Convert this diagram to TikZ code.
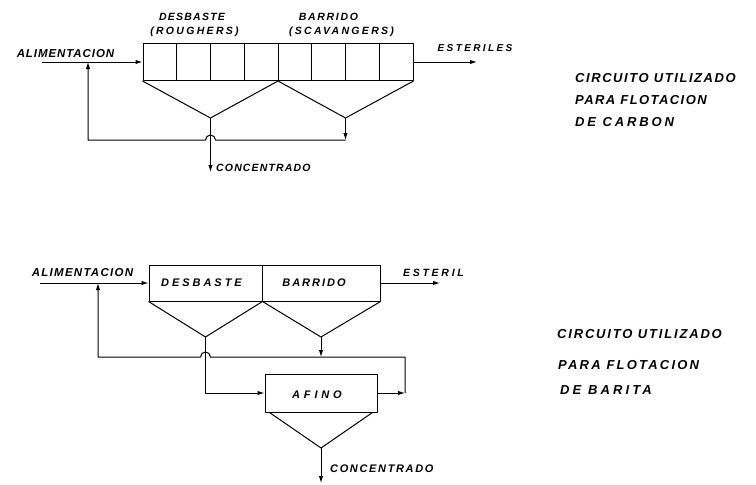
\documentclass[tikz,border=0pt]{standalone}
\usepackage{fontspec}
\newfontfamily\hand{Liberation Sans}
\usetikzlibrary{arrows.meta,calc}
\begin{document}
\begin{tikzpicture}[x=1pt,y=-1pt,
  ln/.style={line width=1pt, line join=round},
  box/.style={ln, draw, rectangle, inner sep=0pt},
  arr/.style={ln, -{Latex[length=7pt,width=4.4pt]}},
  lab/.style 2 args={inner sep=0pt, font=\fontsize{#1pt}{#1pt}\selectfont\hand\bfseries\itshape\addfontfeatures{LetterSpace=#2}}
]
\useasboundingbox (0,0) rectangle (756,485);

% ---------- top circuit ----------
\node[box, minimum width=270pt, minimum height=37pt] (tb) at (278,62) {};
\foreach \i in {1,...,7}
  \draw[ln] ($(tb.north west)!\i/8!(tb.north east)$) -- ($(tb.south west)!\i/8!(tb.south east)$);
\coordinate (ta1) at (210.5,118);
\coordinate (ta2) at (345.5,118);
\draw[ln] (tb.south west) -- (ta1) -- (tb.south) -- (ta2) -- (tb.south east);
\coordinate (tf) at (42,62);
\coordinate (tj) at (88,62);
\coordinate (te) at (477,62);
\coordinate (tc) at (210.5,172);
\coordinate (tr) at (345.5,140);
\coordinate (trl) at (88,140);
\draw[arr] (tf) -- (tb.west);
\draw[arr] (tb.east) -- (te);
\draw[arr] (ta1) -- (tc);
\draw[arr] (ta2) -- (tr);
\draw[arr] (tr) -- (215.5,140) arc[start angle=0, end angle=-180, radius=5] -- (trl) -- (tj);

\node[lab={11.5}{8}] (t1) at (65.5,54) {ALIMENTACION};
\node[lab={10.5}{12}] (t2) at (192,17) {DESBASTE};
\node[lab={10.5}{22}] (t3) at (194.5,32) {(ROUGHERS)};
\node[lab={10.5}{16}] (t4) at (328.5,17) {BARRIDO};
\node[lab={10.5}{22}] (t5) at (341.5,32) {(SCAVANGERS)};
\node[lab={10}{24}] (t6) at (475,48) {ESTERILES};
\node[lab={10.5}{11}, anchor=west] (t7) at (216,168) {CONCENTRADO};
\node[lab={13}{12}, anchor=west] (t8) at (575,78) {CIRCUITO UTILIZADO};
\node[lab={13}{11}, anchor=west] (t9) at (575,100) {PARA FLOTACION};
\node[lab={13}{22}, anchor=west] (t10) at (575,122) {DE CARBON};

% ---------- bottom circuit ----------
\node[box, minimum width=113pt, minimum height=36pt] (bd) at (205.5,283) {};
\node[box, minimum width=118pt, minimum height=36pt] (bb) at (321,283) {};
\node[box, minimum width=112pt, minimum height=38pt] (af) at (321,393) {};
\coordinate (ba1) at (205.5,337);
\coordinate (ba2) at (321,337);
\coordinate (aa) at (321,448);
\draw[ln] (bd.south west) -- (ba1) -- (bd.south east) -- (ba2) -- (bb.south east);
\draw[ln] ($(af.south west)+(5,0)$) -- (aa) -- ($(af.south east)+(-5,0)$);
\coordinate (bf) at (40,283);
\coordinate (be) at (440,283);
\coordinate (br) at (321,357);
\coordinate (bk) at (405,393);
\coordinate (bkt) at (405,357);
\coordinate (bl) at (98,357);
\coordinate (bj) at (98,283);
\coordinate (bc) at (321,483);
\draw[arr] (bf) -- (bd.west);
\draw[arr] (bb.east) -- (be);
\draw[arr] (ba2) -- (br);
\draw[arr] (af.east) -- (bk);
\draw[arr] (bk) -- (bkt) -- (210.5,357) arc[start angle=0, end angle=-180, radius=5] -- (bl) -- (bj);
\draw[arr] (ba1) -- (ba1 |- af.west) -- (af.west);
\draw[arr] (aa) -- (bc);

\node[lab={11.5}{11}] (b1) at (82.5,273) {ALIMENTACION};
\node[lab={11}{27}] (b2) at (201.5,283) {DESBASTE};
\node[lab={11}{18}] (b3) at (314,283) {BARRIDO};
\node[lab={10.5}{26}] (b4) at (433.5,273) {ESTERIL};
\node[lab={11}{35}] (b5) at (317,395) {AFINO};
\node[lab={11}{15}, anchor=west] (b6) at (330,469) {CONCENTRADO};
\node[lab={13}{14}, anchor=west] (b7) at (557,334) {CIRCUITO UTILIZADO};
\node[lab={13}{17}, anchor=west] (b8) at (558,365) {PARA FLOTACION};
\node[lab={13}{24}, anchor=west] (b9) at (560,390) {DE BARITA};
\end{tikzpicture}
\end{document}
